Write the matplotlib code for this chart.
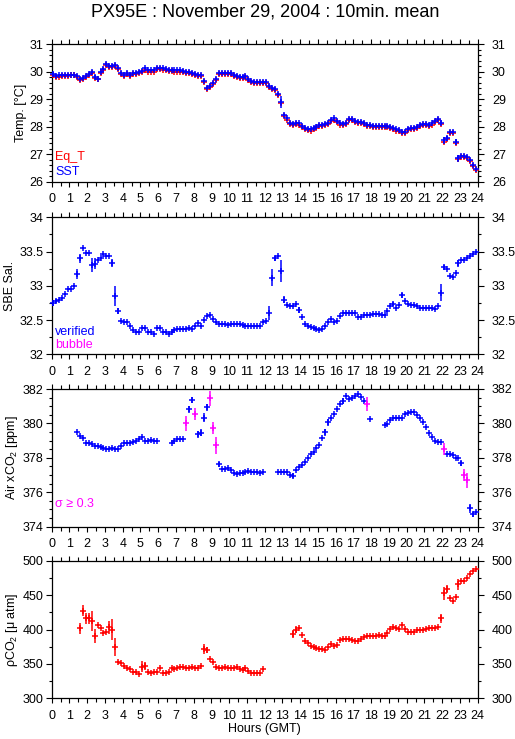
import numpy as np
import matplotlib
matplotlib.use('Agg')
import matplotlib.pyplot as plt
from matplotlib.ticker import MultipleLocator

plt.rcParams['font.family'] = ['Liberation Sans', 'DejaVu Sans']
plt.rcParams['mathtext.fontset'] = 'custom'
plt.rcParams['mathtext.rm'] = 'Liberation Sans'
plt.rcParams['mathtext.it'] = 'Liberation Sans:italic'

nan = np.nan
# 10-minute bins over 24 h (bin centres)
hours = (np.arange(144) + 0.5) / 6.0

sst = [
    29.92, 29.85, 29.87, 29.88, 29.88, 29.90,
    29.90, 29.90, 29.85, 29.73, 29.78, 29.85,
    29.92, 30.00, 29.82, 29.75, 30.00, 30.10,
    30.30, 30.22, 30.20, 30.25, 30.12, 29.95,
    29.90, 29.95, 29.90, 29.95, 29.95, 30.00,
    30.02, 30.12, 30.05, 30.05, 30.05, 30.15,
    30.13, 30.12, 30.10, 30.08, 30.08, 30.05,
    30.05, 30.05, 30.02, 30.00, 29.98, 29.95,
    29.92, 29.88, 29.88, 29.65, 29.40, 29.48,
    29.60, 29.75, 29.95, 29.97, 29.97, 29.97,
    29.95, 29.88, 29.85, 29.82, 29.82, 29.85,
    29.75, 29.65, 29.62, 29.62, 29.62, 29.62,
    29.63, 29.50, 29.40, 29.38, 29.20, 28.90,
    28.42, 28.30, 28.15, 28.10, 28.15, 28.12,
    28.02, 27.95, 27.92, 27.90, 27.95, 28.00,
    28.05, 28.08, 28.10, 28.15, 28.25, 28.30,
    28.20, 28.12, 28.10, 28.15, 28.27, 28.27,
    28.20, 28.18, 28.17, 28.15, 28.07, 28.05,
    28.03, 28.02, 28.02, 28.02, 28.02, 28.02,
    28.00, 27.95, 27.90, 27.88, 27.82, 27.80,
    27.92, 27.95, 27.97, 28.00, 28.05, 28.10,
    28.10, 28.08, 28.12, 28.22, 28.27, 28.15,
    27.50, 27.58, 27.82, 27.82, 27.45, 26.85,
    26.95, 26.95, 26.90, 26.78, 26.62, 26.45,
]
eq_t = [
    29.87, 29.81, 29.82, 29.84, 29.85, 29.86,
    29.87, 29.87, 29.80, 29.69, 29.75, 29.81,
    29.88, 29.96, 29.78, 29.72, 29.96, 30.06,
    30.25, 30.18, 30.17, 30.20, 30.09, 29.91,
    29.86, 29.91, 29.86, 29.91, 29.91, 29.96,
    29.98, 30.08, 30.01, 30.01, 30.01, 30.11,
    30.09, 30.08, 30.06, 30.04, 30.04, 30.01,
    30.01, 30.01, 29.98, 29.96, 29.94, 29.91,
    29.88, 29.84, 29.84, 29.61, 29.36, 29.44,
    29.56, 29.71, 29.91, 29.93, 29.93, 29.93,
    29.91, 29.84, 29.81, 29.78, 29.78, 29.81,
    29.71, 29.61, 29.58, 29.58, 29.58, 29.58,
    29.59, 29.46, 29.36, 29.34, 29.16, 28.86,
    28.38, 28.26, 28.11, 28.06, 28.11, 28.08,
    27.98, 27.91, 27.88, 27.86, 27.91, 27.96,
    28.01, 28.04, 28.06, 28.11, 28.21, 28.26,
    28.16, 28.08, 28.06, 28.11, 28.23, 28.23,
    28.16, 28.14, 28.13, 28.11, 28.03, 28.01,
    27.99, 27.98, 27.98, 27.98, 27.98, 27.98,
    27.96, 27.91, 27.86, 27.84, 27.78, 27.76,
    27.88, 27.91, 27.93, 27.96, 28.01, 28.06,
    28.06, 28.04, 28.08, 28.18, 28.23, 28.11,
    27.46, 27.54, 27.78, 27.78, 27.41, 26.81,
    26.91, 26.91, 26.86, 26.74, 26.58, 26.41,
]
sst_sd = {0: 0.08, 14: 0.08, 15: 0.05, 77: 0.22, 131: 0.08, 132: 0.12,
          133: 0.10, 136: 0.12, 137: 0.12}

sal = [
    32.75, 32.78, 32.80, 32.82, 32.88, 32.95,
    32.95, 33.00, 33.17, 33.40, 33.55, 33.48,
    33.48, 33.30, 33.32, 33.38, 33.40, 33.47,
    33.43, 33.44, 33.33, 32.85, 32.63, 32.48,
    32.47, 32.47, 32.42, 32.35, 32.32, 32.32,
    32.38, 32.38, 32.33, 32.33, 32.30, 32.38,
    32.38, 32.32, 32.32, 32.30, 32.32, 32.35,
    32.37, 32.37, 32.37, 32.37, 32.38, 32.37,
    32.42, 32.46, 32.42, 32.50, 32.56, 32.57,
    32.52, 32.47, 32.44, 32.44, 32.44, 32.43,
    32.44, 32.44, 32.44, 32.44, 32.43, 32.41,
    32.41, 32.41, 32.41, 32.41, 32.41, 32.47,
    32.48, 32.60, 33.12, 33.40, 33.43, 33.22,
    32.80, 32.72, 32.70, 32.70, 32.74, 32.65,
    32.54, 32.44, 32.42, 32.40, 32.38, 32.37,
    32.36, 32.37, 32.41, 32.47, 32.51, 32.47,
    32.49, 32.56, 32.60, 32.60, 32.61, 32.61,
    32.60, 32.54, 32.54, 32.57, 32.58, 32.58,
    32.59, 32.59, 32.59, 32.58, 32.58, 32.63,
    32.71, 32.73, 32.68, 32.72, 32.86, 32.78,
    32.74, 32.72, 32.72, 32.70, 32.68, 32.68,
    32.68, 32.68, 32.68, 32.66, 32.70, 32.90,
    33.27, 33.25, 33.15, 33.13, 33.18, 33.33,
    33.38, 33.38, 33.40, 33.44, 33.47, 33.50,
]
sal_sd = {0: 0.05, 1: 0.03, 8: 0.07, 9: 0.06, 13: 0.10, 14: 0.08, 20: 0.06,
          21: 0.14, 22: 0.04, 73: 0.10, 74: 0.12, 75: 0.04, 77: 0.16, 78: 0.05,
          83: 0.04, 115: 0.03, 118: 0.04, 131: 0.12, 132: 0.04, 137: 0.05}

air = [
    nan, nan, nan, nan, nan, nan,
    nan, nan, 379.48, 379.27, 379.13, 378.84,
    378.84, 378.80, 378.70, 378.69, 378.65, 378.60,
    378.50, 378.50, 378.55, 378.50, 378.50, 378.67,
    378.84, 378.86, 378.88, 378.92, 379.00, 379.10,
    379.19, 379.00, 379.00, 379.05, 379.00, 379.00,
    nan, nan, nan, nan, 378.86, 379.00,
    379.07, 379.10, 379.10, 380.00, 380.82, 381.36,
    380.53, 379.38, 379.46, 380.33, 380.95, 381.46,
    379.71, 378.74, 377.62, 377.35, 377.33, 377.39,
    377.31, 377.13, 377.06, 377.12, 377.13, 377.20,
    377.23, 377.20, 377.15, 377.15, 377.10, 377.20,
    nan, nan, nan, nan, 377.15, 377.20,
    377.15, 377.15, 377.00, 376.96, 377.29, 377.48,
    377.58, 377.74, 378.00, 378.22, 378.36, 378.60,
    378.74, 379.13, 379.48, 380.06, 380.33, 380.53,
    380.82, 381.10, 381.30, 381.61, 381.40, 381.46,
    381.61, 381.73, 381.55, 381.30, 381.13, 380.26,
    nan, nan, nan, nan, 379.90, 379.95,
    380.18, 380.30, 380.33, 380.33, 380.33, 380.53,
    380.62, 380.64, 380.68, 380.49, 380.30, 380.06,
    379.77, 379.42, 379.19, 379.00, 378.94, 378.94,
    378.51, 378.20, 378.20, 378.16, 378.00, 377.97,
    377.68, 377.00, 376.69, 375.06, 374.71, 374.83,
]
air_sd = {45: 0.45, 46: 0.20, 47: 0.20, 48: 0.35, 49: 0.20, 50: 0.20,
          51: 0.25, 52: 0.20, 53: 0.45, 54: 0.35, 55: 0.50, 56: 0.15,
          81: 0.15, 92: 0.20, 93: 0.20, 98: 0.15, 106: 0.40, 132: 0.35,
          138: 0.15, 139: 0.35, 140: 0.45, 141: 0.25, 142: 0.15}
air_bad = [45, 48, 53, 54, 55, 106, 132, 139, 140]  # sigma >= 0.3

pco2 = [
    nan, nan, nan, nan, nan, nan,
    nan, nan, nan, 401.7, 427.4, 416.2,
    416.0, 412.3, 391.0, 406.5, 402.7, 395.4,
    395.9, 403.0, 400.0, 374.0, 352.3, 350.8,
    347.5, 343.6, 342.0, 338.7, 337.8, 335.3,
    346.0, 347.0, 338.7, 336.3, 338.7, 338.7,
    344.5, 337.3, 336.3, 338.2, 343.6, 342.6,
    343.6, 345.0, 345.0, 344.5, 344.5, 345.0,
    343.6, 343.6, 347.5, 371.7, 370.2, 357.1,
    352.3, 346.0, 343.6, 344.5, 346.0, 344.5,
    344.5, 343.6, 346.0, 342.6, 341.1, 344.5,
    339.7, 336.3, 336.3, 336.3, 336.3, 342.0,
    nan, nan, nan, nan, nan, nan,
    nan, nan, nan, 393.0, 400.0, 402.7,
    391.5, 383.3, 380.0, 376.5, 374.0, 372.6,
    371.2, 371.7, 370.2, 374.0, 379.4, 376.0,
    377.5, 384.7, 385.7, 385.7, 386.7, 384.7,
    383.3, 383.3, 386.2, 388.6, 391.0, 391.0,
    391.0, 391.0, 392.0, 391.0, 391.0, 394.4,
    400.2, 404.0, 401.7, 400.2, 406.0, 400.2,
    396.4, 396.4, 396.8, 399.3, 399.3, 399.3,
    400.2, 401.7, 401.7, 402.0, 403.1, 416.2,
    452.5, 458.8, 446.2, 441.4, 447.7, 466.0,
    471.0, 471.0, 475.3, 480.6, 485.0, 487.4,
]
pco2_sd = {9: 8, 10: 8, 11: 8, 12: 8, 13: 15, 14: 10, 19: 10, 20: 15,
           21: 13, 30: 8, 31: 6, 51: 7, 52: 5, 81: 6, 82: 5, 131: 7,
           132: 10, 133: 6, 137: 8}

xticks = list(range(0, 25))

BLUE = '#0000ff'
RED = '#ff0000'
MAG = '#ff00ff'
MS = 4.3
MEW = 1.1

W, H = 515, 739
fig = plt.figure(figsize=(W / 100, H / 100), dpi=100)

def frac_box(top_px, bot_px, left_px=51.7, right_px=477.7):
    return [left_px / W, 1 - bot_px / H, (right_px - left_px) / W, (bot_px - top_px) / H]

def draw(ax, y, sd, color, exclude=None):
    y = np.asarray(y, dtype=float)
    mask = np.ones(len(y), bool)
    if exclude is not None:
        mask[exclude] = False
    ax.plot(hours[mask], y[mask], ls='none', marker='+', ms=MS, mew=MEW,
            color=color, clip_on=False, zorder=3)
    idx = [i for i in sd if mask[i]]
    if idx:
        ax.vlines(hours[idx], y[idx] - np.array([sd[i] for i in idx]),
                  y[idx] + np.array([sd[i] for i in idx]), color=color,
                  lw=MEW, zorder=3)

def style(ax, ylim, major, minor, fmt=None, rpad=6.0):
    ax.set_xlim(0, 24)
    ax.set_ylim(*ylim)
    ax.xaxis.set_major_locator(MultipleLocator(1))
    ax.xaxis.set_minor_locator(MultipleLocator(0.5))
    ax.yaxis.set_major_locator(MultipleLocator(major))
    ax.yaxis.set_minor_locator(MultipleLocator(minor))
    ax.set_xticks(xticks)
    ax.set_xticklabels([str(v) for v in xticks])
    for sp in ax.spines.values():
        sp.set_linewidth(0.9)
    ax.tick_params(axis='x', which='major', direction='out', length=3.8, width=0.8,
                   top=True, bottom=True, labelsize=9, pad=4.5)
    ax.tick_params(axis='x', which='minor', direction='out', length=2.8, width=0.8,
                   top=True, bottom=True)
    ax.tick_params(axis='y', which='major', direction='out', length=4.2, width=0.8,
                   left=True, right=False, labelsize=9, pad=1.8)
    ax.tick_params(axis='y', which='minor', direction='out', length=2.3, width=0.8,
                   left=True, right=False)
    if fmt:
        ax.yaxis.set_major_formatter(plt.FuncFormatter(fmt))
    tw = ax.twinx()
    tw.set_ylim(*ylim)
    tw.yaxis.set_major_locator(MultipleLocator(major))
    tw.yaxis.set_minor_locator(MultipleLocator(minor))
    if fmt:
        tw.yaxis.set_major_formatter(plt.FuncFormatter(fmt))
    tw.tick_params(axis='y', which='major', direction='out', length=4.2, width=0.8,
                   labelsize=9, pad=rpad)
    tw.tick_params(axis='y', which='minor', direction='out', length=2.3, width=0.8)
    for sp in tw.spines.values():
        sp.set_visible(False)
    return tw

def gfmt(v, pos):
    return ('%g' % v)

# Panel 1: temperature
ax1 = fig.add_axes(frac_box(44.3, 181.7))
draw(ax1, eq_t, {}, RED)
draw(ax1, sst, sst_sd, BLUE)
style(ax1, (26, 31), 1, 0.2, gfmt)
ax1.set_ylabel('Temp. [°C]', fontsize=9, labelpad=2)
ax1.text(0.008, 0.18, 'Eq_T', color=RED, fontsize=9, transform=ax1.transAxes, va='center')
ax1.text(0.008, 0.07, 'SST', color=BLUE, fontsize=9, transform=ax1.transAxes, va='center')

# Panel 2: salinity
ax2 = fig.add_axes(frac_box(217.3, 354.3))
draw(ax2, sal, sal_sd, BLUE)
style(ax2, (32, 34), 0.5, 0.25, gfmt)
ax2.set_ylabel('SBE Sal.', fontsize=9, labelpad=2)
ax2.text(0.008, 0.163, 'verified', color=BLUE, fontsize=9, transform=ax2.transAxes, va='center')
ax2.text(0.008, 0.068, 'bubble', color=MAG, fontsize=9, transform=ax2.transAxes, va='center')

# Panel 3: air xCO2
ax3 = fig.add_axes(frac_box(389.0, 526.7))
draw(ax3, air, air_sd, BLUE, exclude=air_bad)
air_arr = np.asarray(air, dtype=float)
ax3.plot(hours[air_bad], air_arr[air_bad], ls='none', marker='+', ms=MS, mew=MEW,
         color=MAG, zorder=3)
ax3.vlines(hours[air_bad], air_arr[air_bad] - np.array([air_sd[i] for i in air_bad]),
           air_arr[air_bad] + np.array([air_sd[i] for i in air_bad]), color=MAG,
           lw=MEW, zorder=3)
style(ax3, (374, 382), 2, 0.5, gfmt)
ax3.set_ylabel('Air xCO$_2$ [ppm]', fontsize=9, labelpad=2)
ax3.text(0.008, 0.163, 'σ ≥ 0.3', color=MAG, fontsize=9, transform=ax3.transAxes, va='center')

# Panel 4: pCO2
ax4 = fig.add_axes(frac_box(560.7, 698.3))
draw(ax4, pco2, pco2_sd, RED)
style(ax4, (300, 500), 50, 25, gfmt)
ax4.set_ylabel('ρCO$_2$ [μ atm]', fontsize=9, labelpad=2)

fig.text(264.7 / W, 1 - 12 / H, 'PX95E : November 29, 2004 : 10min. mean',
         ha='center', va='center', fontsize=13)
fig.text(264.7 / W, 1 - 729 / H, 'Hours (GMT)', ha='center', va='center', fontsize=9)

fig.savefig('out.png', dpi=100, facecolor='white')
